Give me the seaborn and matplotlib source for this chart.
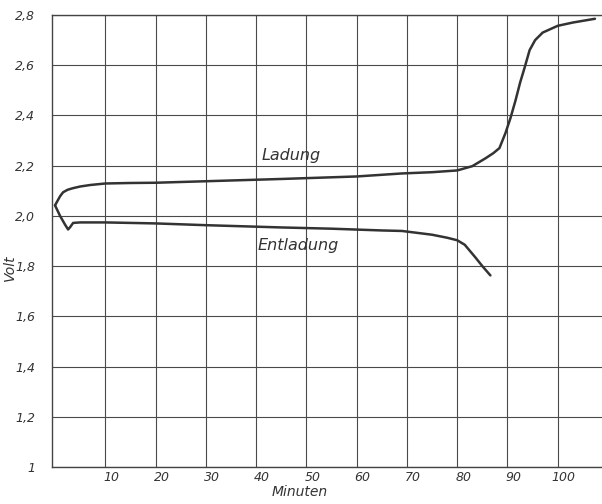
import numpy as np
import pandas as pd
import matplotlib
matplotlib.use('Agg')
import matplotlib.pyplot as plt
import matplotlib.transforms as mtrans
import seaborn as sns

# values
ladung_min = [0, 0.5, 1, 1.6, 2.5, 3.5, 5, 7, 10, 15, 20, 30, 45, 60, 69, 75, 80, 83, 85.6, 87.2,
              88.4, 89.6, 90.6, 91.6, 92.5, 93.4, 94.4, 95.5, 97, 100, 103, 107.4]
ladung_volt = [2.042, 2.06, 2.078, 2.094, 2.104, 2.11, 2.117, 2.123, 2.129, 2.131, 2.132, 2.138, 2.147,
               2.157, 2.169, 2.174, 2.181, 2.198, 2.229, 2.25, 2.27, 2.33, 2.39, 2.46, 2.53, 2.59,
               2.66, 2.70, 2.73, 2.757, 2.77, 2.785]
entladung_min = [0, 1, 2, 2.6, 3, 3.6, 5, 10, 20, 30, 45, 55, 65, 69, 75, 78, 80, 81.5, 83.6, 85, 86.6]
entladung_volt = [2.042, 2.0, 1.965, 1.946, 1.955, 1.972, 1.974, 1.974, 1.97, 1.963, 1.954, 1.949,
                  1.942, 1.94, 1.925, 1.913, 1.903, 1.885, 1.835, 1.8, 1.763]

y_ticks = [1.0, 1.2, 1.4, 1.6, 1.8, 2.0, 2.2, 2.4, 2.6, 2.8]
y_labels = ['1', '1,2', '1,4', '1,6', '1,8', '2,0', '2,2', '2,4', '2,6', '2,8']
x_ticks = [10, 20, 30, 40, 50, 60, 70, 80, 90, 100]

sns.set_style('white')
plt.rcParams['font.family'] = ['DejaVu Sans']

fig = plt.figure(figsize=(6.02, 5.04), dpi=100)
ax = fig.add_axes([52 / 602, 37 / 504, 550 / 602, 452 / 504])

ink = '#333333'
sns.lineplot(x=ladung_min, y=ladung_volt, sort=False, color=ink, lw=1.8, ax=ax)
sns.lineplot(x=entladung_min, y=entladung_volt, sort=False, color=ink, lw=1.8, ax=ax)

ax.set_xlim(-0.6, 108.8)
ax.set_ylim(1.0, 2.8)
ax.set_xticks(x_ticks)
ax.set_yticks(y_ticks)
ax.set_xticklabels([str(t) for t in x_ticks], style='italic', fontsize=9, color=ink)
ax.set_yticklabels(y_labels, style='italic', fontsize=9, color=ink)
ax.tick_params(axis='both', length=0)
ax.tick_params(axis='x', pad=3)
ax.tick_params(axis='y', pad=12)

# tick numbers in the scan sit a bit right of their grid lines
offset = mtrans.ScaledTranslation(0.06, 0, fig.dpi_scale_trans)
for lab in ax.get_xticklabels():
    lab.set_transform(lab.get_transform() + offset)

ax.grid(True, color='#4a4a4a', lw=0.8)
for side in ['left', 'bottom', 'top']:
    ax.spines[side].set_color('#444444')
    ax.spines[side].set_linewidth(1.0)
ax.spines['right'].set_visible(False)

ax.set_xlabel('Minuten', style='italic', fontsize=10, color=ink)
ax.xaxis.set_label_coords(0.45, -0.04)
ax.set_ylabel('Volt', style='italic', fontsize=10, color=ink)
ax.yaxis.set_label_coords(-0.064, 0.44)

ax.text(47, 2.24, 'Ladung', style='italic', fontsize=11.5, color=ink, ha='center', va='center')
ax.text(48.4, 1.883, 'Entladung', style='italic', fontsize=11.5, color=ink, ha='center', va='center')

fig.savefig('out.png', dpi=100)
